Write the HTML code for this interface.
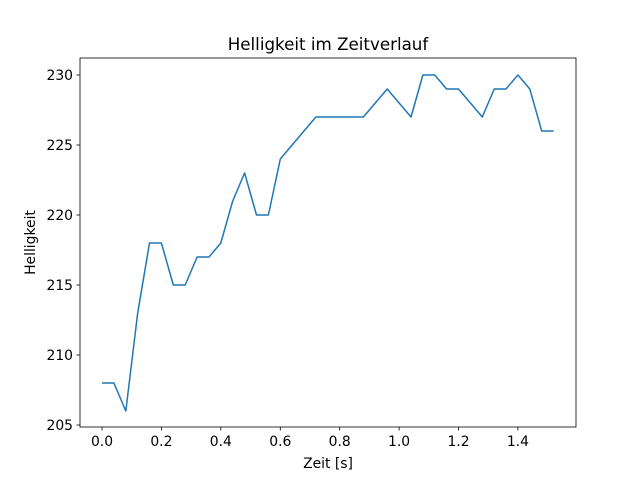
<!DOCTYPE html>
<html><head><meta charset="utf-8"><style>body{margin:0;background:#fff}svg{display:block}text{font-family:"DejaVu Sans","Liberation Sans",sans-serif;fill:#000}</style></head><body>
<svg width="640" height="480" xmlns="http://www.w3.org/2000/svg">
<rect x="80" y="58" width="496" height="369" fill="none" stroke="#000" stroke-width="0.8"/>
<g stroke="#000" stroke-width="0.8">
<line x1="102" y1="427" x2="102" y2="430.5"/><line x1="161.4" y1="427" x2="161.4" y2="430.5"/><line x1="220.8" y1="427" x2="220.8" y2="430.5"/><line x1="280.3" y1="427" x2="280.3" y2="430.5"/><line x1="339.7" y1="427" x2="339.7" y2="430.5"/><line x1="399.1" y1="427" x2="399.1" y2="430.5"/><line x1="458.5" y1="427" x2="458.5" y2="430.5"/><line x1="517.9" y1="427" x2="517.9" y2="430.5"/>
<line x1="76.5" y1="425" x2="80" y2="425"/><line x1="76.5" y1="355" x2="80" y2="355"/><line x1="76.5" y1="285" x2="80" y2="285"/><line x1="76.5" y1="215" x2="80" y2="215"/><line x1="76.5" y1="145" x2="80" y2="145"/><line x1="76.5" y1="75" x2="80" y2="75"/>
</g>
<g font-size="13.9" text-anchor="middle">
<text x="102" y="446">0.0</text><text x="161.4" y="446">0.2</text><text x="220.8" y="446">0.4</text><text x="280.3" y="446">0.6</text><text x="339.7" y="446">0.8</text><text x="399.1" y="446">1.0</text><text x="458.5" y="446">1.2</text><text x="517.9" y="446">1.4</text>
</g>
<g font-size="13.9" text-anchor="end">
<text x="73" y="430">205</text><text x="73" y="360">210</text><text x="73" y="290">215</text><text x="73" y="220">220</text><text x="73" y="150">225</text><text x="73" y="80">230</text>
</g>
<text x="328" y="468" font-size="13.9" text-anchor="middle">Zeit [s]</text>
<text x="35" y="242.5" font-size="13.9" text-anchor="middle" transform="rotate(-90 35 242.5)">Helligkeit</text>
<text x="328" y="50" font-size="16.7" text-anchor="middle">Helligkeit im Zeitverlauf</text>
<polyline fill="none" stroke="#1f77b4" stroke-width="1.5" stroke-linejoin="round" points="102,383 113.9,383 125.8,411 137.7,313 149.5,243 161.4,243 173.3,285 185.2,285 197.1,257 209,257 220.8,243 232.7,201 244.6,173 256.5,215 268.4,215 280.3,159 292.1,145 304,131 315.9,117 327.8,117 339.7,117 351.6,117 363.4,117 375.3,103 387.2,89 399.1,103 411,117 422.9,75 434.8,75 446.6,89 458.5,89 470.4,103 482.3,117 494.2,89 506,89 517.9,75 529.8,89 541.7,131 553.6,131"/>
</svg>
</body></html>
